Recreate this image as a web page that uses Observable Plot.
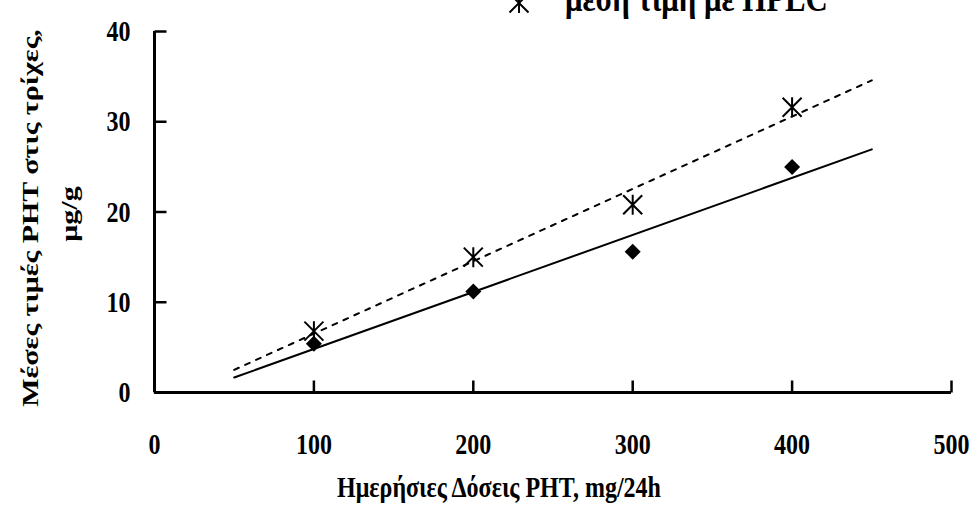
<!DOCTYPE html>
<html>
<head>
<meta charset="utf-8">
<script src="https://cdn.jsdelivr.net/npm/d3@7"></script>
<script src="https://cdn.jsdelivr.net/npm/@observablehq/plot@0.6"></script>
<style>
  html, body { margin: 0; padding: 0; background: #fff; }
  #chart { position: relative; width: 978px; height: 512px; overflow: hidden; }
  #legend { position: absolute; left: 0; top: 0; }
</style>
</head>
<body>
<div id="chart"></div>
<script>
// Daily PHT dose (mg/24h) and mean PHT concentration in hair (μg/g)
const doses = [100, 200, 300, 400];
const diamondValues = [5.4, 11.2, 15.6, 25.0];
const hplcValues = [6.8, 15.0, 20.8, 31.6];
const xTicks = [0, 100, 200, 300, 400, 500];
const yTicks = [0, 10, 20, 30, 40];
const trendSpan = [50, 450];

const xTitle = "Ημερήσιες Δόσεις PHT, mg/24h";
const yTitle = "Μέσες τιμές PHT στις τρίχες,";
const yUnit = "μg/g";
const hplcLabel = "μέση τιμή με HPLC";

const FONT = '"Liberation Serif", "Times New Roman", serif';
const FS = 30;        // font size of labels
const SQUEEZE = 0.8;  // horizontal compression of the tall bold lettering

// Least-squares trend line evaluated over the trend span
function trend(xs, ys) {
  const mx = d3.mean(xs), my = d3.mean(ys);
  const b = d3.sum(xs, (x, i) => (x - mx) * (ys[i] - my)) / d3.sum(xs, x => (x - mx) ** 2);
  const a = my - b * mx;
  return trendSpan.map(x => ({x, y: a + b * x}));
}

const diamonds = doses.map((x, i) => ({x, y: diamondValues[i]}));
const stars = doses.map((x, i) => ({x, y: hplcValues[i]}));

// Custom marker shapes (size = r² · π as passed by Plot.dot)
const diamondSymbol = {
  draw(ctx, size) {
    const r = Math.sqrt(size / Math.PI);
    ctx.moveTo(0, -r); ctx.lineTo(r, 0); ctx.lineTo(0, r); ctx.lineTo(-r, 0); ctx.closePath();
  }
};
const asteriskSymbol = {
  draw(ctx, size) {
    const r = Math.sqrt(size / Math.PI);
    const d = r * 0.95;
    ctx.moveTo(0, -r); ctx.lineTo(0, r);
    ctx.moveTo(-d, -d); ctx.lineTo(d, d);
    ctx.moveTo(d, -d); ctx.lineTo(-d, d);
  }
};
// Inward tick marks
const tickUp = { draw(ctx) { ctx.moveTo(0, 0); ctx.lineTo(0, -12); } };
const tickRight = { draw(ctx) { ctx.moveTo(0, 0); ctx.lineTo(12, 0); } };

const plot = Plot.plot({
  width: 978,
  height: 512,
  marginLeft: 154,
  marginRight: 27,
  marginTop: 31,
  marginBottom: 120,
  style: {fontFamily: FONT, fontSize: FS + "px", fontWeight: "bold", color: "black", background: "white"},
  x: {domain: [0, 500], label: null},
  y: {domain: [0, 40], label: null},
  marks: [
    Plot.axisX({ticks: xTicks, tickSize: 0, tickPadding: 40, fontSize: FS, label: null}),
    Plot.axisY({ticks: yTicks, tickSize: 0, tickPadding: 24, fontSize: FS, label: null}),
    Plot.dot(xTicks, {x: d => d, y: () => 0, symbol: tickUp, r: 1, stroke: "black", strokeWidth: 2.5}),
    Plot.dot(yTicks, {x: () => 0, y: d => d, symbol: tickRight, r: 1, stroke: "black", strokeWidth: 2.5}),
    Plot.ruleY([0], {stroke: "black", strokeWidth: 3}),
    Plot.ruleX([0], {stroke: "black", strokeWidth: 3}),
    Plot.line(trend(doses, diamondValues), {x: "x", y: "y", stroke: "black", strokeWidth: 2}),
    Plot.line(trend(doses, hplcValues), {x: "x", y: "y", stroke: "black", strokeWidth: 2, strokeDasharray: "5,7"}),
    Plot.dot(stars, {x: "x", y: "y", symbol: asteriskSymbol, r: 10, stroke: "black", strokeWidth: 2, fill: "none"}),
    Plot.dot(diamonds, {x: "x", y: "y", symbol: diamondSymbol, r: 8, fill: "black", stroke: "none"}),
    Plot.text([xTitle], {text: d => d, frameAnchor: "bottom", textAnchor: "middle", lineAnchor: "middle", dx: -54, dy: 95, fontSize: FS}),
    Plot.text([yTitle], {text: d => d, frameAnchor: "left", rotate: -90, textAnchor: "middle", lineAnchor: "middle", dx: -124, dy: 6, fontSize: FS}),
    Plot.text([yUnit], {text: d => d, frameAnchor: "left", rotate: -90, textAnchor: "middle", lineAnchor: "middle", dx: -85, dy: 2, fontSize: FS})
  ]
});

// Compress every label horizontally about its own anchor point
function squeeze(root, s) {
  root.querySelectorAll("text").forEach(t => {
    const tr = t.getAttribute("transform") || "";
    const m = tr.match(/^\s*translate\(([^)]*)\)(.*)$/);
    if (m) t.setAttribute("transform", `translate(${m[1]}) scale(${s},1)${m[2]}`);
    else {
      const x = +(t.getAttribute("x") || 0), y = +(t.getAttribute("y") || 0);
      t.removeAttribute("x"); t.removeAttribute("y");
      t.setAttribute("transform", `translate(${x},${y}) scale(${s},1) ${tr}`);
    }
  });
}
squeeze(plot, SQUEEZE);

const chart = document.getElementById("chart");
chart.appendChild(plot);

// Legend entry (the first entry sits above the visible area)
const legend = d3.create("svg")
  .attr("id", "legend")
  .attr("width", 978)
  .attr("height", 40)
  .style("font-family", FONT)
  .style("font-weight", "bold");
legend.append("path")
  .attr("transform", "translate(519,3)")
  .attr("d", d3.symbol(asteriskSymbol, 100 * Math.PI)())
  .attr("fill", "none")
  .attr("stroke", "black")
  .attr("stroke-width", 2);
legend.append("text")
  .attr("transform", `translate(565,11) scale(${SQUEEZE},1)`)
  .attr("font-size", 38.5)
  .text(hplcLabel);
chart.appendChild(legend.node());
</script>
</body>
</html>
